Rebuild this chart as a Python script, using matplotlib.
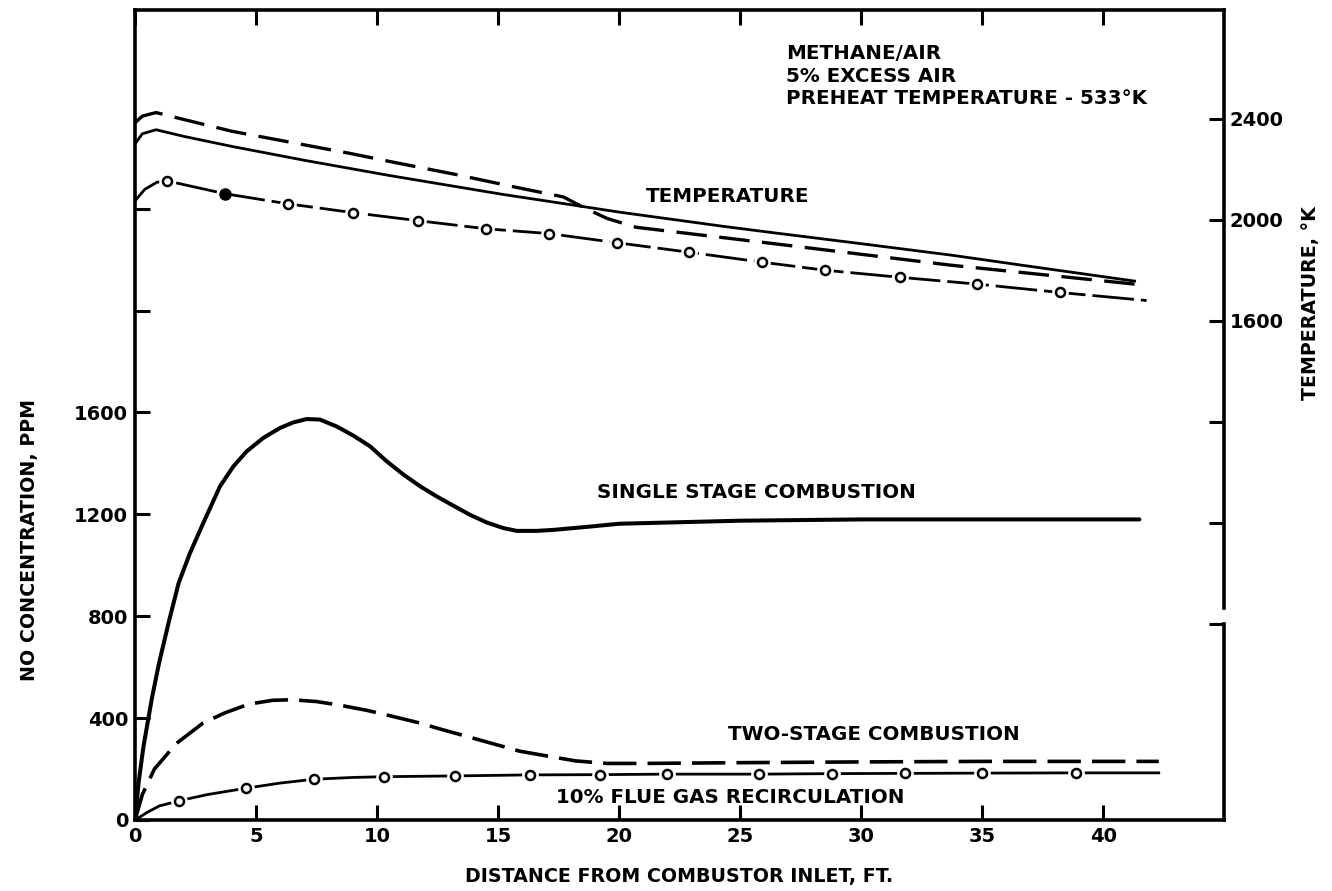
import matplotlib
matplotlib.use("Agg")
import matplotlib.pyplot as plt

plt.rcParams["font.family"] = ["DejaVu Sans"]
plt.rcParams["lines.scale_dashes"] = False

# ---------------- axes / ticks ----------------
x_ticks = [0, 5, 10, 15, 20, 25, 30, 35, 40]
x_tick_labels = ["0", "5", "10", "15", "20", "25", "30", "35", "40"]
no_ticks = [0, 400, 800, 1200, 1600, 2000, 2400]
no_tick_labels = ["0", "400", "800", "1200", "1600", "", ""]
t_ticks = [400, 800, 1200, 1600, 2000, 2400]
t_tick_labels = ["", "", "", "1600", "2000", "2400"]

# ---------------- NO concentration (ppm) ----------------
single_x = [0, 0.15, 0.35, 0.7, 1.0, 1.4, 1.8, 2.27, 2.82, 3.51, 4.06, 4.61, 5.30, 5.99,
            6.54, 7.09, 7.64, 8.33, 9.02, 9.71, 10.4, 11.09, 11.78, 12.47, 13.15, 13.84,
            14.53, 15.22, 15.77, 16.6, 17.3, 18.7, 20.0, 25.0, 30.0, 35.0, 41.5]
single_ppm = [0, 150, 290, 480, 620, 780, 930, 1048, 1166, 1310, 1388, 1447, 1500, 1539,
              1561, 1574, 1572, 1545, 1509, 1467, 1408, 1356, 1310, 1270, 1234, 1198,
              1168, 1146, 1135, 1135, 1139, 1151, 1163, 1175, 1180, 1180, 1180]

two_x = [0, 0.3, 0.8, 1.7, 2.8, 3.7, 4.7, 5.7, 6.5, 7.5, 8.5, 9.6, 10.5, 11.8,
         12.5, 14.2, 15.9, 17.1, 18.2, 19.5, 21.0, 25.0, 30.0, 35.0, 42.3]
two_ppm = [0, 100, 200, 300, 380, 420, 455, 470, 472, 465, 450, 430, 410, 380,
           360, 315, 270, 250, 232, 222, 222, 225, 228, 230, 230]

fgr_x = [0, 0.5, 1.0, 1.8, 3.0, 4.6, 6.0, 7.4, 9.0, 10.3, 13.2, 16.3, 19.2, 22.0,
         25.8, 28.8, 31.8, 35.0, 38.9, 42.3]
fgr_ppm = [0, 30, 55, 75, 100, 125, 145, 160, 167, 170, 173, 177, 178, 180,
           180, 182, 183, 184, 185, 185]
fgr_mark_x = [1.8, 4.6, 7.4, 10.3, 13.2, 16.3, 19.2, 22.0, 25.8, 28.8, 31.8, 35.0, 38.9]
fgr_mark_ppm = [75, 125, 160, 170, 173, 177, 178, 180, 180, 182, 183, 184, 185]

# ---------------- Temperature (K) ----------------
t_single_x = [0, 0.3, 0.87, 2.0, 4.0, 7.0, 10.5, 15.2, 18.3, 20.0, 24.2, 26.4, 30.0,
              33.7, 37.0, 41.3]
t_single_K = [2300, 2340, 2356, 2330, 2290, 2235, 2175, 2100, 2055, 2030, 1975, 1948, 1905,
              1860, 1815, 1757]

t_two_x = [0, 0.3, 0.87, 1.7, 4.0, 6.5, 8.9, 10.8, 13.3, 15.5, 17.7, 18.5, 19.5, 20.7,
           26.4, 33.7, 41.3]
t_two_K = [2384, 2410, 2424, 2404, 2350, 2305, 2262, 2225, 2178, 2133, 2090, 2050, 2005, 1970,
           1905, 1820, 1745]

t_fgr_x = [0, 0.4, 0.9, 1.3, 3.7, 6.3, 9.0, 11.7, 14.5, 17.1, 19.9, 22.9, 25.9, 28.5,
           31.6, 34.8, 38.2, 41.8]
t_fgr_K = [2075, 2120, 2148, 2154, 2103, 2063, 2028, 1996, 1964, 1945, 1909, 1871, 1832, 1800,
           1772, 1745, 1712, 1680]
t_fgr_mark_x = [1.3, 6.3, 9.0, 11.7, 14.5, 17.1, 19.9, 22.9, 25.9, 28.5, 31.6, 34.8, 38.2]
t_fgr_mark_K = [2154, 2063, 2028, 1996, 1964, 1945, 1909, 1871, 1832, 1800, 1772, 1745, 1712]
t_fgr_filled_x = [3.7]
t_fgr_filled_K = [2103]

# ---------------- figure ----------------
fig = plt.figure(figsize=(13.32, 8.91), dpi=100)
ax = fig.add_axes([0.1014, 0.0797, 0.8176, 0.9091])
ax2 = ax.twinx()

ax.set_xlim(0, 45)
ax.set_ylim(0, 3180)
ax2.set_ylim(-376, 2830)

# NO curves
ax.plot(single_x, single_ppm, color="black", lw=2.9, solid_capstyle="round",
        solid_joinstyle="round", zorder=3)
ax.plot(two_x, two_ppm, color="black", lw=2.6, linestyle=(0, (24, 8)), zorder=3)
ax.plot(fgr_x, fgr_ppm, color="black", lw=2.0, zorder=3)
ax.plot(fgr_mark_x, fgr_mark_ppm, "o", ms=11, mfc="white", mec="white", zorder=4)
ax.plot(fgr_mark_x, fgr_mark_ppm, "o", ms=6.5, mfc="white", mec="black", mew=1.8, zorder=5)

# Temperature curves
ax2.plot(t_single_x, t_single_K, color="black", lw=2.0, solid_joinstyle="round", zorder=3)
ax2.plot(t_two_x, t_two_K, color="black", lw=2.4, linestyle=(0, (22, 9)), zorder=3)
ax2.plot(t_fgr_x, t_fgr_K, color="black", lw=2.0, linestyle=(0, (30, 5)), zorder=3)
ax2.plot(t_fgr_mark_x, t_fgr_mark_K, "o", ms=11, mfc="white", mec="white", zorder=4)
ax2.plot(t_fgr_mark_x, t_fgr_mark_K, "o", ms=6.5, mfc="white", mec="black", mew=1.8, zorder=5)
ax2.plot(t_fgr_filled_x, t_fgr_filled_K, "o", ms=8, mfc="black", mec="black", zorder=5)

# ticks
tick_font = dict(fontsize=14, fontweight="bold")
ax.set_xticks(x_ticks)
ax.set_xticklabels(x_tick_labels, **tick_font)
ax.set_yticks(no_ticks)
ax.set_yticklabels(no_tick_labels, **tick_font)
ax.tick_params(axis="x", direction="in", length=11, width=2.2, top=True, bottom=True,
               labeltop=False, pad=5)
ax.tick_params(axis="y", direction="in", length=11, width=2.2, left=True, right=False, pad=5)
ax2.set_yticks(t_ticks)
ax2.set_yticklabels(t_tick_labels, **tick_font)
ax2.tick_params(axis="y", direction="in", length=11, width=2.2, right=True, pad=4)

# spines
for s in ["left", "bottom", "top"]:
    ax.spines[s].set_linewidth(2.6)
ax.spines["right"].set_visible(False)
for s in ["left", "bottom", "top"]:
    ax2.spines[s].set_visible(False)
ax2.spines["right"].set_linewidth(2.6)
ax2.spines["right"].set_bounds(463, 2830)
ylo = ax2.get_ylim()[0]
ax2.plot([1, 1], [ylo, 400], color="black", lw=2.6, clip_on=False,
         transform=ax2.get_yaxis_transform(), solid_capstyle="projecting")

# labels
lab_font = dict(fontsize=13.7, fontweight="bold")
ax.set_xlabel("DISTANCE FROM COMBUSTOR INLET, FT.", **lab_font, labelpad=15)
fig.text(0.0225, 0.394, "NO CONCENTRATION, PPM", rotation=90, ha="center", va="center",
         **lab_font)
fig.text(0.984, 0.66, "TEMPERATURE, \u00b0K", rotation=90, ha="center", va="center",
         **lab_font)

ann = dict(fontsize=14.3, fontweight="bold", color="black")
ax.text(19.1, 1285, "SINGLE STAGE COMBUSTION", ha="left", va="center", **ann)
ax.text(24.5, 334, "TWO-STAGE COMBUSTION", ha="left", va="center", **ann)
ax.text(17.4, 90, "10% FLUE GAS RECIRCULATION", ha="left", va="center", **ann)
ax2.text(21.1, 2091, "TEMPERATURE", ha="left", va="center", **ann)
ax.text(0.598, 0.958, "METHANE/AIR\n5% EXCESS AIR\nPREHEAT TEMPERATURE - 533\u00b0K",
        transform=ax.transAxes, ha="left", va="top", linespacing=1.25, **ann)

fig.savefig("out.png", dpi=100)
